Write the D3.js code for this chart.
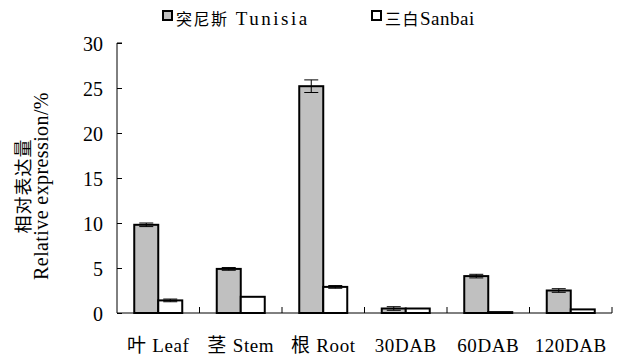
<!DOCTYPE html>
<html><head><meta charset="utf-8">
<script src="https://cdn.jsdelivr.net/npm/d3@7"></script>
<style>body{margin:0;background:#fff}svg{display:block}
text{font-family:"Liberation Serif","Noto Sans CJK SC",serif;fill:#000}
.cjk{font-family:"Noto Sans CJK SC",sans-serif}</style>
</head><body><svg id="c" width="629" height="359"></svg>
<script>
const categories = ["叶 Leaf", "茎 Stem", "根 Root", "30DAB", "60DAB", "120DAB"];
const seriesNames = ["突尼斯 Tunisia", "三白Sanbai"];
const tunisia = [9.8, 4.9, 25.2, 0.5, 4.1, 2.5];
const tunisiaErr = [0.2, 0.15, 0.7, 0.2, 0.2, 0.2];
const sanbai = [1.4, 1.8, 2.9, 0.5, 0.1, 0.4];
const sanbaiErr = [0.15, 0, 0.15, 0, 0, 0];
const yTicks = [0, 5, 10, 15, 20, 25, 30];

const svg = d3.select("#c");
const m = {l:117, r:612, t:43, b:313};
const x = d3.scaleBand().domain(categories).range([m.l, m.r]);
const y = d3.scaleLinear().domain([0, 30]).range([m.b, m.t]);
const bw = 24;
const colors = ["#c0c0c0", "#ffffff"];
const series = [{v:tunisia, e:tunisiaErr}, {v:sanbai, e:sanbaiErr}];

// split text into CJK / Latin runs
function runs(t) {
  return t.match(/[\u3000-\u9fff]+|[^\u3000-\u9fff]+/g);
}
function fillRuns(sel, t, latinSpacing) {
  runs(t).forEach(r => {
    const isCjk = /[\u3000-\u9fff]/.test(r);
    sel.append("tspan").attr("class", isCjk ? "cjk" : null)
      .style("letter-spacing", isCjk ? "1px" : latinSpacing + "px")
      .text(r);
  });
}

// axes
const yAxis = svg.append("g").attr("transform", `translate(${m.l},0)`)
  .call(d3.axisLeft(y).tickValues(yTicks).tickSize(-5).tickPadding(14));
yAxis.attr("font-family", null).attr("font-size", null);
yAxis.select(".domain").attr("d", `M5,${m.t}H0V${m.b}`);
yAxis.selectAll("text").style("font-size", "20px").attr("dy", "0.36em");
const xAxis = svg.append("g").attr("transform", `translate(0,${m.b})`)
  .call(d3.axisBottom(x).tickSize(0).tickPadding(0));
xAxis.attr("font-family", null).attr("font-size", null);
xAxis.select(".domain").attr("d", `M${m.l},0H${m.r}`);
xAxis.selectAll("text").attr("y", 39).attr("dy", 0).style("font-size", "19px")
  .each(function(d) { const s = d3.select(this); s.text(""); fillRuns(s, d, 0.6); });
// inward ticks between groups
svg.append("g").selectAll("line").data(categories).join("line")
  .attr("x1", d => x(d) + x.bandwidth()).attr("x2", d => x(d) + x.bandwidth())
  .attr("y1", m.b).attr("y2", m.b - 6).attr("stroke", "#000");
svg.selectAll(".domain, .tick line").attr("stroke", "#000");

// bars
series.forEach((s, si) => {
  const g = svg.append("g");
  g.selectAll("rect").data(categories).join("rect")
    .attr("x", (d, i) => x(d) + x.bandwidth()/2 - bw + si*bw)
    .attr("y", (d, i) => y(s.v[i]))
    .attr("width", bw)
    .attr("height", (d, i) => y(0) - y(s.v[i]))
    .attr("fill", colors[si]).attr("stroke", "#000").attr("stroke-width", 2);
  const eg = g.append("g");
  categories.forEach((d, i) => {
    if (!s.e[i]) return;
    const cx = x(d) + x.bandwidth()/2 - bw/2 + si*bw;
    const y1 = y(s.v[i] + s.e[i]), y2 = y(s.v[i] - s.e[i]);
    eg.append("line").attr("x1", cx).attr("x2", cx).attr("y1", y1).attr("y2", y2).attr("stroke", "#000");
    [y1, y2].forEach(yy => eg.append("line").attr("x1", cx-7).attr("x2", cx+7).attr("y1", yy).attr("y2", yy).attr("stroke", "#000"));
  });
});

// legend
const legX = [163, 372];
const legSpacing = [2.5, 0.5];
seriesNames.forEach((n, i) => {
  svg.append("rect").attr("x", legX[i]).attr("y", 11).attr("width", 9).attr("height", 9)
    .attr("fill", colors[i]).attr("stroke", "#000").attr("stroke-width", 2);
  const t = svg.append("text").attr("x", legX[i] + 13).attr("y", 25).style("font-size", "19px");
  fillRuns(t, n, legSpacing[i]);
  t.selectAll("tspan.cjk").style("font-size", "16px").style("letter-spacing", "1.5px");
});

// y title
const yt = svg.append("text").attr("transform", "translate(0,186) rotate(-90)")
  .attr("text-anchor", "middle");
yt.append("tspan").attr("class", "cjk").attr("x", 0).attr("y", 30).style("font-size", "18px").style("letter-spacing", "1px").text("相对表达量");
yt.append("tspan").attr("x", 0).attr("y", 48).style("font-size", "20px").style("letter-spacing", "0.4px").text("Relative expression/%");
</script></body></html>
